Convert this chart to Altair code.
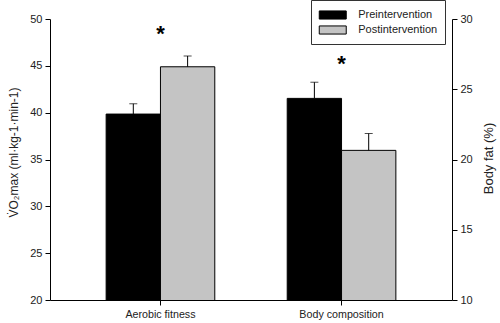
import altair as alt
import pandas as pd

categories = ["Aerobic fitness", "Body composition"]
groups = ["Preintervention", "Postintervention"]
vo2_mean = [39.85, 44.9]
vo2_se = [1.1, 1.15]
fat_mean = [24.35, 20.65]
fat_se = [1.15, 1.2]
star_vo2 = 48.8
star_fat = 27.1

FONT = "Liberation Sans"

vo2_df = pd.DataFrame({
    "category": [categories[0]] * 2,
    "group": groups,
    "value": vo2_mean,
    "upper": [m + s for m, s in zip(vo2_mean, vo2_se)],
})
fat_df = pd.DataFrame({
    "category": [categories[1]] * 2,
    "group": groups,
    "value": fat_mean,
    "upper": [m + s for m, s in zip(fat_mean, fat_se)],
})
star_vo2_df = pd.DataFrame({"category": [categories[0]], "value": [star_vo2], "upper": [star_vo2]})
star_fat_df = pd.DataFrame({"category": [categories[1]], "value": [star_fat], "upper": [star_fat]})

xenc = alt.X("category:N", sort=categories,
             scale=alt.Scale(domain=categories, paddingInner=0.4, paddingOuter=0.31),
             axis=alt.Axis(title=None, labelAngle=0, labelFontSize=10.7, labelColor="#222",
                           domainColor="black", tickColor="black", tickSize=5,
                           labelPadding=4, labelFont=FONT))
xoff = alt.XOffset("group:N", sort=groups, scale=alt.Scale(domain=groups, paddingInner=0, paddingOuter=0))


def yenc(field, domain, title, orient, vals, tx, ty, tfs):
    return alt.Y(field, type="quantitative",
                 scale=alt.Scale(domain=domain, nice=False, zero=False),
                 axis=alt.Axis(title=title, orient=orient, values=vals, grid=False,
                               domainColor="black", tickColor="black", tickSize=5,
                               labelFontSize=11, labelColor="#222", labelFont=FONT,
                               titleFontSize=tfs, titleFontWeight="normal", titleColor="#222",
                               titleFont=FONT, labelPadding=3, titleAngle=270,
                               titleX=tx, titleY=ty, titleBaseline="middle",
                               titleAlign="center"))


def panel(df, sdf, domain, title, orient, vals, legend, tx, ty, tfs):
    color = alt.Color("group:N", sort=groups,
                      scale=alt.Scale(domain=groups, range=["#000000", "#c4c4c4"]),
                      legend=legend)
    y_val = yenc("value", domain, title, orient, vals, tx, ty, tfs)
    bars = alt.Chart(df).mark_bar(stroke="black", strokeWidth=1, clip=True).encode(
        x=xenc, xOffset=xoff, y=y_val, color=color)
    err = alt.Chart(df).mark_rule(color="black", strokeWidth=1).encode(
        x=xenc, xOffset=xoff, y=y_val, y2="upper:Q")
    cap = alt.Chart(df).mark_tick(color="black", orient="horizontal", size=8, thickness=1).encode(
        x=xenc, xOffset=xoff, y=yenc("upper", domain, title, orient, vals, tx, ty, tfs))
    star = alt.Chart(sdf).mark_text(text="*", fontSize=22, fontWeight="bold", font=FONT,
                                    baseline="middle", dy=4).encode(
        x=xenc, y=y_val)
    return alt.layer(bars, err, cap, star)


legend = alt.Legend(title=None, orient="none", legendX=261, legendY=-19,
                    symbolType="M-2,-0.6H2V0.6H-2Z", symbolSize=182, symbolOffset=6.75,
                    symbolStrokeColor="black", symbolStrokeWidth=1,
                    labelFontSize=11, labelFont=FONT, labelColor="#222",
                    strokeColor="#333", fillColor="white", padding=7.5, rowPadding=1,
                    labelOffset=18)

left = panel(vo2_df, star_vo2_df, [20, 50], "V̇O₂max (ml·kg-1·min-1)", "left",
             [20, 25, 30, 35, 40, 45, 50], legend, -37, 133, 12)
right = panel(fat_df, star_fat_df, [10, 30], "Body fat (%)", "right",
              [10, 15, 20, 25, 30], None, 36, 139, 13)

chart = alt.layer(left, right).resolve_scale(y="independent").properties(
    width=402, height=281,
    autosize=alt.AutoSizeParams(type="none"),
    padding={"left": 50, "top": 19, "right": 48, "bottom": 23},
    background="white",
).configure_view(stroke=None)

chart.save("out.html", embed_options={"renderer": "svg", "actions": False})
